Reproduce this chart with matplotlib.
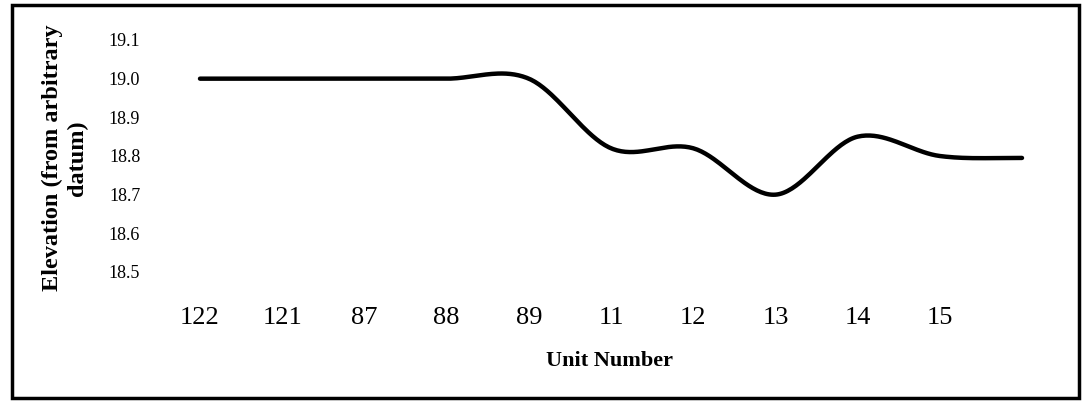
import numpy as np
import matplotlib
matplotlib.use("Agg")
import matplotlib.pyplot as plt
from matplotlib.patches import Rectangle

# unit numbers along the profile and elevation readings
units = ["122", "121", "87", "88", "89", "11", "12", "13", "14", "15", ""]
elevation = [19.0, 19.0, 19.0, 19.0, 19.0, 18.82, 18.82, 18.70, 18.85, 18.80, 18.795]
yticks = [18.5, 18.6, 18.7, 18.8, 18.9, 19.0, 19.1]

plt.rcParams['font.family'] = ['Liberation Serif', 'DejaVu Serif']


def smooth(y, n=40):
    # cardinal (Catmull-Rom) spline through the points, like a smoothed line
    y = np.asarray(y, dtype=float)
    m = np.zeros_like(y)
    m[1:-1] = (y[2:] - y[:-2]) / 2
    m[0] = 0.0
    m[-1] = (y[-1] - y[-2]) / 2
    xs, ys = [], []
    for i in range(len(y) - 1):
        t = np.linspace(0, 1, n, endpoint=False)
        h00 = 2 * t**3 - 3 * t**2 + 1
        h10 = t**3 - 2 * t**2 + t
        h01 = -2 * t**3 + 3 * t**2
        h11 = t**3 - t**2
        xs.append(i + t)
        ys.append(h00 * y[i] + h10 * m[i] + h01 * y[i + 1] + h11 * m[i + 1])
    xs.append([len(y) - 1])
    ys.append([y[-1]])
    return np.concatenate(xs), np.concatenate(ys)


W, H = 1086, 404
fig = plt.figure(figsize=(W / 100, H / 100), dpi=100)

# axes box in pixels: left 150, right 1050, top 40, bottom 272
ax = fig.add_axes([150 / W, (H - 272) / H, 900 / W, 232 / H])
step = 82.2
ax.set_xlim(-(200 - 150) / step, 10 + (1050 - 1022) / step)
ax.set_ylim(18.5, 19.1)

sx, sy = smooth(elevation)
ax.plot(sx, sy, color='black', lw=3.2, solid_capstyle='round')

ax.set_xticks(range(len(units)))
ax.set_xticklabels(units, fontsize=19)
ax.set_yticks(yticks)
ax.set_yticklabels([f"{v:.1f}" for v in yticks], fontsize=13)
ax.tick_params(axis='x', length=0, pad=25)
ax.tick_params(axis='y', length=0, pad=7)
for s in ax.spines.values():
    s.set_visible(False)

fig.text(65 / W, (H - 158) / H, "Elevation (from arbitrary\ndatum)",
         rotation=90, ha='center', va='center', multialignment='center',
         fontsize=17.5, fontweight='bold', linespacing=1.2)
fig.text(610 / W, (H - 361) / H, "Unit Number", ha='center', va='center',
         fontsize=16, fontweight='bold')

# outer frame
fig.patches.append(Rectangle((12 / W, (H - 398) / H), (1079 - 12) / W, (398 - 5) / H,
                             transform=fig.transFigure, fill=False,
                             edgecolor='black', lw=2.5))

fig.savefig("out.png", dpi=100)
